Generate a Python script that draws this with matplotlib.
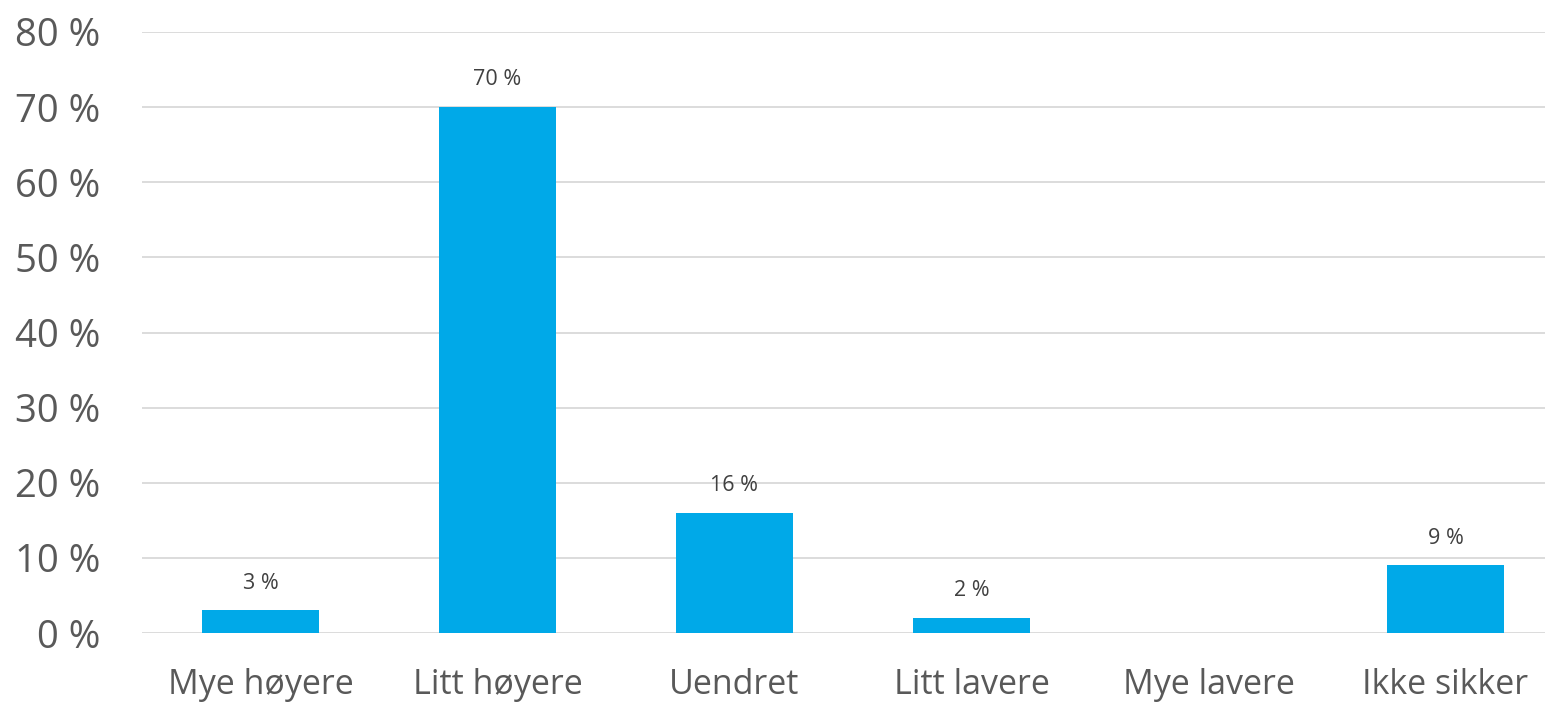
import matplotlib.pyplot as plt
import numpy as np

categories = ["Mye høyere", "Litt høyere", "Uendret", "Litt lavere", "Mye lavere", "Ikke sikker"]
shares = [3, 70, 16, 2, 0, 9]  # prosent
shown = [True, True, True, True, False, True]
y_ticks = [0, 10, 20, 30, 40, 50, 60, 70, 80]

plt.rcParams["font.family"] = ["Open Sans", "DejaVu Sans"]

fig = plt.figure(figsize=(15.55, 7.02), dpi=100)
ax = fig.add_axes([142 / 1555, 69 / 702, (1545 - 142) / 1555, (633 - 32) / 702])

x = np.arange(len(categories))
bars = ax.bar(x, shares, width=0.49, color="#00A9E8", zorder=3)

for rect, val, vis in zip(bars, shares, shown):
    if not vis:
        continue
    ax.annotate(f"{val} %", (rect.get_x() + rect.get_width() / 2, val),
                xytext=(0, 12), textcoords="offset points",
                ha="center", va="bottom", fontsize=15.5, color="#404040")

ax.set_xlim(-0.5, 5.42)
ax.set_ylim(0, 80)
ax.set_yticks(y_ticks)
ax.set_yticklabels([f"{t} %" for t in y_ticks])
ax.set_xticks(x)
ax.set_xticklabels(categories)

ax.grid(axis="y", color="#D9D9D9", linewidth=1.3, zorder=0)
for s in ax.spines.values():
    s.set_visible(False)
ax.tick_params(axis="both", length=0, labelsize=24.5, labelcolor="#595959")
ax.tick_params(axis="y", pad=30, labelsize=27.5)
ax.tick_params(axis="x", pad=25)

fig.savefig("out.png", dpi=100)
